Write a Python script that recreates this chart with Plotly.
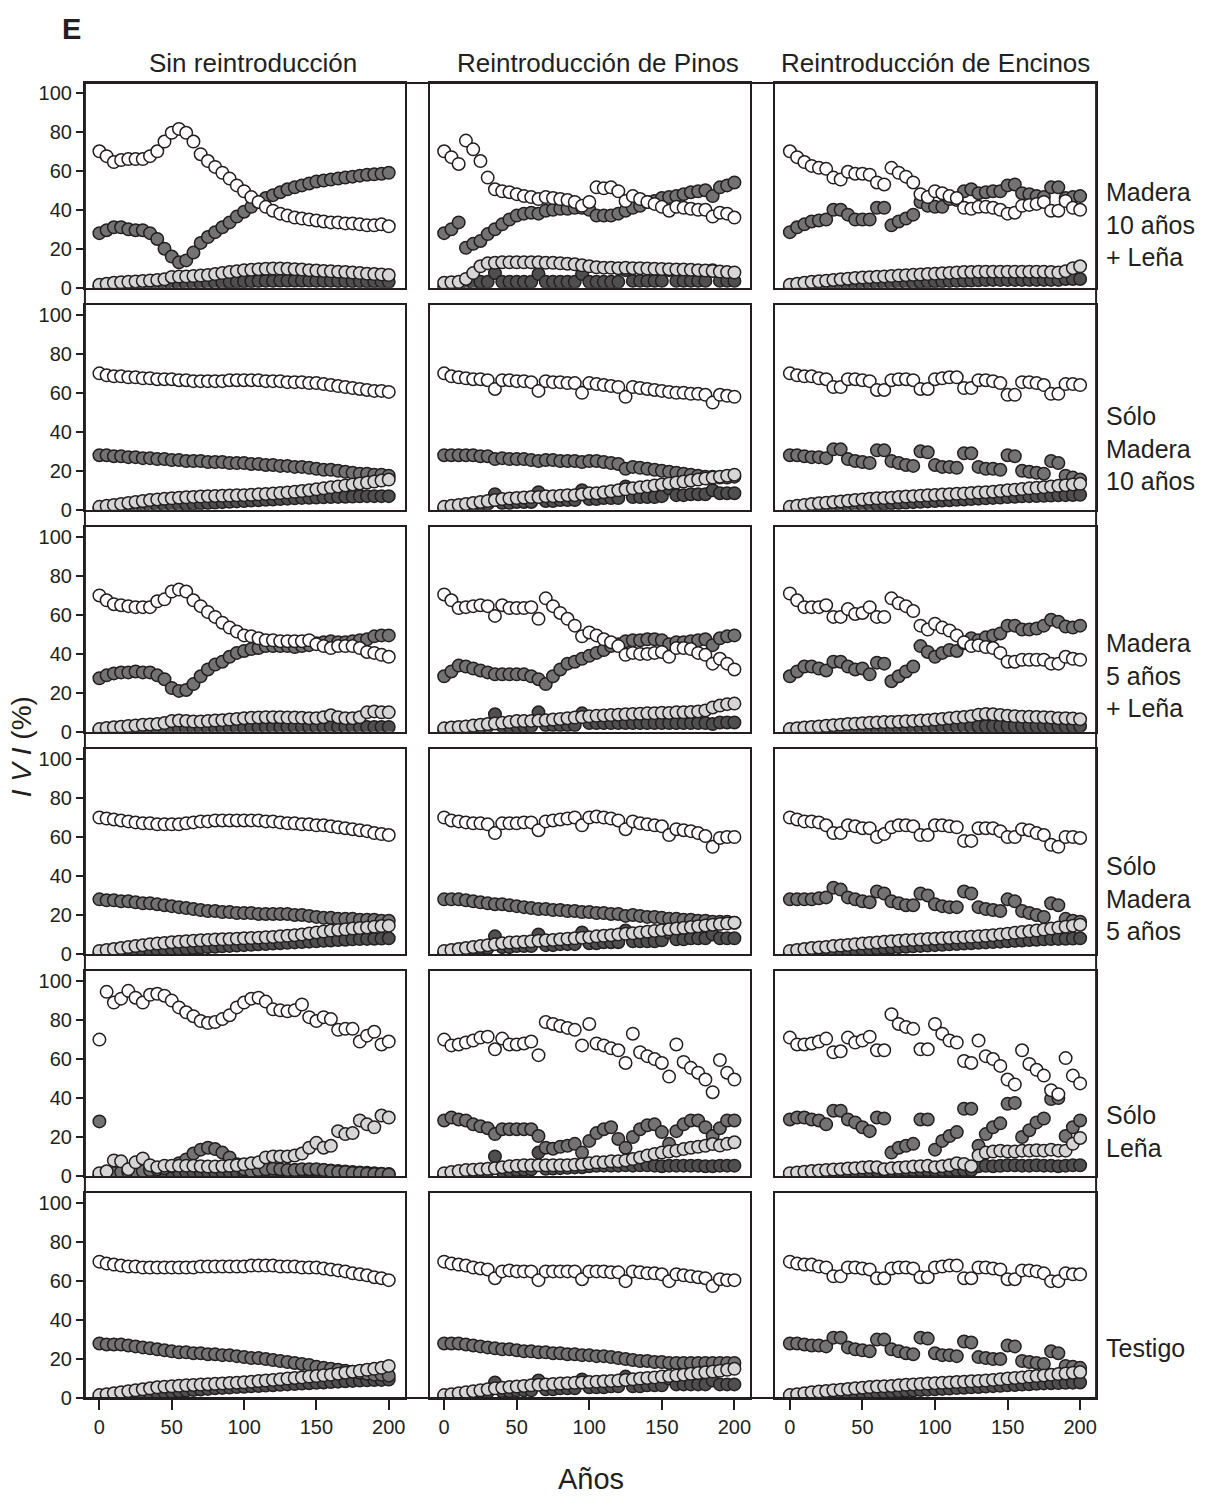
import plotly.graph_objects as go

years = list(range(0, 205, 5))
col_titles = ["Sin reintroducción", "Reintroducción de Pinos", "Reintroducción de Encinos"]
row_labels = ["Madera<br>10 años<br>+ Leña", "Sólo<br>Madera<br>10 años", "Madera<br>5 años<br>+ Leña",
              "Sólo<br>Madera<br>5 años", "Sólo<br>Leña", "Testigo"]
y_ticks = [0, 20, 40, 60, 80, 100]
x_ticks = [0, 50, 100, 150, 200]

# ---- Row 1: Madera 10 años + Leña ----
w11 = [70, 67.5, 64.5, 65.5, 66, 66, 66, 67.5, 70, 75, 79.5, 81.5, 79.5, 75, 68.5, 65, 62, 59, 56, 52.5, 49.5, 46.5, 44, 41.5, 39.5, 38, 37, 36, 35.5, 35, 34.5, 34, 33.5, 33.5, 33, 33, 32.5, 32, 32, 32.5, 31.5]
g11 = [28, 29.5, 31, 31, 30, 29.5, 29.5, 28, 25, 20, 16, 13, 14, 18, 23, 26, 28.5, 31, 33.5, 36.5, 39, 41.5, 44, 46, 47.5, 49, 50.5, 51.5, 52.5, 53.5, 54.5, 55, 55.5, 56, 56.5, 57, 57.5, 58, 58.2, 58.5, 59]
l11 = [1.5, 2, 2.5, 2.8, 3, 3.2, 3.5, 3.7, 4, 4.3, 5.5, 5.7, 5.8, 6, 6.2, 6.5, 7, 7.5, 8, 8.5, 9, 9.2, 9.5, 9.7, 9.8, 9.8, 9.7, 9.5, 9.3, 9, 8.8, 8.6, 8.4, 8.2, 8, 7.8, 7.5, 7.2, 7, 6.8, 6.5]
k11 = [0.3, 0.4, 0.5, 0.6, 0.7, 0.8, 0.9, 1, 1.1, 1.2, 1.4, 1.6, 1.8, 2, 2.2, 2.4, 2.6, 2.8, 3, 3.1, 3.2, 3.3, 3.4, 3.5, 3.5, 3.6, 3.6, 3.6, 3.6, 3.6, 3.5, 3.5, 3.5, 3.4, 3.4, 3.3, 3.3, 3.2, 3.2, 3.1, 3]

w12 = [70, 67, 63.5, 75.5, 71, 65, 56.5, 50.5, 49.5, 49, 48, 47, 46.5, 45.5, 46.5, 46, 45.5, 45, 44, 42, 44, 51.5, 51, 51.5, 49.5, 44.5, 47, 45.5, 44, 43, 41.5, 39.5, 41.5, 41, 40.5, 40, 40, 36.5, 38.5, 38, 36]
g12 = [28, 30, 33.5, 20.5, 22.5, 24, 27.5, 30, 32.5, 35, 37, 38, 38.5, 38, 39.5, 40, 40.5, 40.5, 41, 41, 40, 37, 37, 37, 38, 39.5, 41, 42, 44, 44.5, 46, 46.5, 47, 48, 49, 49.5, 50, 47, 51.5, 52.5, 54]
l12 = [2.5, 2.8, 3, 4.5, 7.5, 11, 12.5, 12.8, 13, 13, 13, 13, 13, 13, 12.8, 12.8, 12.5, 12.3, 12, 11.5, 11, 10.5, 10.3, 10.2, 10, 10.2, 10, 10, 9.8, 9.7, 9.6, 9.5, 9.4, 9.3, 9.2, 9, 8.8, 8.6, 8.3, 8, 7.8]
k12 = [0.5, 0.8, 1.2, 1.8, 2.5, 3, 3, 7.5, 3, 3, 3, 3, 3, 7, 3, 3, 3, 3, 3, 7, 3, 3, 3, 3, 3, 9, 3.5, 3.5, 3.5, 3.5, 3.5, 9, 3.5, 3.5, 3.5, 3.5, 3.5, 9, 3.5, 3.5, 3.5]

w13 = [70, 67, 64.5, 62.5, 61.5, 61, 56.5, 55.5, 59.5, 58.5, 58.5, 58, 54, 53, 61.5, 59, 57, 54, 48, 46.5, 49.5, 48.5, 47, 46, 41, 40.5, 41.5, 41.5, 41, 40, 38, 38.5, 42, 42.5, 43, 44, 39.5, 39.5, 44.5, 41, 40]
g13 = [28.5, 31, 32.5, 34, 34.5, 35, 40, 40, 37.5, 35, 35, 35, 41, 41, 32, 34, 35.5, 37.5, 44, 42, 41.5, 41.5, 45.5, 45, 49.5, 50.5, 48.5, 49, 49.5, 49.5, 52.5, 53, 48.5, 48, 47, 46.5, 51.5, 51.5, 46, 46.5, 47]
l13 = [1.5, 2, 2.5, 3, 3.3, 3.6, 4, 4.3, 4.6, 5, 5.2, 5.4, 5.6, 5.8, 6, 6.2, 6.4, 6.6, 6.8, 7, 7.2, 7.4, 7.6, 7.8, 8, 8, 8.2, 8.2, 8.2, 8.2, 8.2, 8.2, 8.2, 8.2, 8.2, 8.2, 8, 7.8, 8.5, 10, 11]
k13 = [0.3, 0.4, 0.5, 0.6, 0.7, 0.8, 0.9, 1, 1.1, 1.2, 1.4, 1.6, 1.8, 2, 2.2, 2.4, 2.6, 2.8, 3, 3.1, 3.2, 3.3, 3.4, 3.5, 3.6, 3.7, 3.8, 3.9, 4, 4, 4, 4, 4, 4, 4, 4, 4, 4, 4.5, 4.5, 4.5]

# ---- Row 2: Sólo Madera 10 años ----
w21 = [70, 69, 68.5, 68.5, 68, 68, 67.5, 67.5, 67, 67, 67, 66.5, 66.5, 66, 66, 66, 66, 66, 66.5, 66.5, 66.5, 66.5, 66.5, 66, 66, 66, 65.5, 65.5, 65.5, 65, 65, 64.5, 64, 63.5, 63, 62.5, 62, 61.5, 61, 61, 60.5]
g21 = [28, 28, 27.5, 27.5, 27, 27, 26.5, 26.5, 26, 26, 25.5, 25.5, 25, 25, 25, 24.5, 24.5, 24.5, 24, 24, 24, 23.5, 23.5, 23, 23, 22.5, 22.5, 22, 22, 21.5, 21, 20.5, 20.5, 20, 19.5, 19, 18.5, 18.5, 18, 18, 17.5]
l21 = [1.5, 2, 2.5, 3, 3.5, 4, 4.5, 5, 5.3, 5.6, 5.9, 6.2, 6.4, 6.6, 6.8, 7, 7.1, 7.2, 7.3, 7.4, 7.5, 7.7, 7.9, 8.1, 8.3, 8.6, 8.9, 9.2, 9.6, 10, 10.5, 11, 11.5, 12, 12.5, 13, 13.5, 14, 14.5, 15, 15.5]
k21 = [0.5, 0.7, 0.9, 1.1, 1.3, 1.5, 1.7, 1.9, 2.1, 2.3, 2.5, 2.7, 2.9, 3.1, 3.3, 3.5, 3.7, 3.9, 4.1, 4.3, 4.5, 4.7, 4.9, 5.1, 5.3, 5.5, 5.7, 5.9, 6.1, 6.2, 6.3, 6.4, 6.5, 6.6, 6.7, 6.8, 6.9, 7, 7, 7, 7]

w22 = [70, 68.5, 68, 67.5, 67, 67, 66.5, 62, 66.5, 66.5, 66, 66, 65.5, 61, 66, 65.5, 65.5, 65, 65, 60, 65, 64.5, 64, 63.5, 63, 58, 63, 62.5, 62, 61.5, 61, 60.5, 60, 60, 59.5, 59.5, 59, 55, 59, 58.5, 58]
g22 = [28, 28, 28, 28, 28, 27.5, 27.5, 26, 26.5, 26, 26, 26, 25.5, 25, 25.5, 25.5, 25, 25, 25, 24.5, 25, 25, 24.5, 24, 23.5, 21, 22, 21.5, 21, 20.5, 20, 19.5, 19, 18.5, 18, 17.5, 17, 17, 16.5, 16.5, 17]
l22 = [1.5, 2, 2.5, 3, 3.5, 4, 4.5, 5, 5.5, 5.8, 6, 6.3, 6.5, 6.5, 7, 7, 7.2, 7.5, 7.5, 8, 8.5, 8.5, 9, 9.5, 10, 10.5, 11, 11.5, 12, 12.5, 13, 13.5, 14, 14.5, 15, 15.5, 16, 16.5, 17, 17.5, 18]
k22 = [0.5, 1, 1.5, 2, 2.5, 3, 3, 8, 3.5, 3.5, 4, 4, 4, 9, 4.5, 4.5, 5, 5, 5, 10, 5.5, 5.5, 6, 6, 6, 12, 6.5, 6.5, 6.5, 6.5, 7, 11, 7.5, 7.5, 8, 8, 8, 10, 8.5, 8.5, 8.5]

w23 = [70, 69, 68.5, 68.5, 67.5, 67, 63, 63, 67, 67, 66.5, 66, 61.5, 61.5, 66.5, 67, 67, 66.5, 62, 62, 67, 67.5, 68, 68, 62.5, 62.5, 66.5, 66.5, 66, 65, 59, 59, 65.5, 65.5, 65, 64, 59.5, 59.5, 64.5, 64.5, 64]
g23 = [28, 28, 27.5, 27, 27, 26.5, 31, 31, 26, 25, 24.5, 24, 30.5, 30.5, 25, 24, 23, 22.5, 30, 29.5, 23, 22, 22, 21.5, 29, 29, 22, 21, 21, 20.5, 28, 27.5, 20, 19.5, 19, 18.5, 25, 24, 17.5, 16.5, 15.5]
l23 = [1.5, 2, 2.5, 3, 3.3, 3.6, 4, 4.3, 4.6, 5, 5.3, 5.6, 5.9, 6, 6.2, 6.5, 6.8, 7, 7.2, 7.4, 7.6, 7.8, 8, 8.2, 8.4, 8.6, 8.8, 9, 9.3, 9.6, 10, 10.3, 10.6, 11, 11.3, 11.6, 12, 12.3, 12.6, 13, 13.3]
k23 = [0.5, 0.7, 0.9, 1.1, 1.3, 1.5, 1.7, 1.9, 2.1, 2.3, 2.5, 2.7, 2.9, 3.1, 3.3, 3.5, 3.7, 3.9, 4.1, 4.3, 4.5, 4.7, 4.9, 5.1, 5.3, 5.5, 5.7, 5.9, 6.1, 6.3, 6.5, 6.7, 6.9, 7, 7.1, 7.2, 7.3, 7.4, 7.5, 7.6, 7.7]

# ---- Row 3: Madera 5 años + Leña ----
w31 = [70, 67.5, 65.5, 65, 64.5, 64, 64, 64, 67, 68, 72, 73, 72, 67.5, 64.5, 61.5, 59, 56, 53.5, 51.5, 49.5, 49, 48, 47, 47, 46.5, 46.5, 46.5, 46.5, 47, 45, 44, 43, 44, 44, 44, 43, 41, 40.5, 39.5, 38.5]
g31 = [27.5, 29, 30, 30.5, 30.5, 31, 30.5, 30.5, 29, 27, 22.5, 21, 21.5, 24.5, 28.5, 32, 34.5, 36, 38.5, 40.5, 41.5, 42.5, 43, 44, 44, 44, 44, 43.5, 44, 44.5, 45.5, 46, 46.5, 46, 46, 46.5, 47, 47.5, 49, 49.5, 49.5]
l31 = [1.4, 2, 2.3, 2.6, 3, 3.3, 3.6, 3.8, 4, 4.5, 5.5, 5.8, 5.5, 5.3, 5.3, 5.5, 5.8, 6, 6.3, 6.6, 7, 7.2, 7.4, 7.5, 7.5, 7.5, 7.3, 7.3, 7.2, 7, 7, 7.5, 8.5, 7.5, 7, 7, 7.5, 10, 10.5, 10, 10]
k31 = [0.3, 0.4, 0.5, 0.6, 0.7, 0.8, 0.9, 1, 1.1, 1.2, 1.3, 1.4, 1.5, 1.6, 1.7, 1.8, 1.9, 2, 2, 2.1, 2.1, 2.2, 2.2, 2.3, 2.3, 2.4, 2.4, 2.4, 2.5, 2.5, 2.5, 2.5, 2.5, 2.5, 2.5, 2.5, 2.5, 2.5, 2.5, 2.5, 2.5]

w32 = [70.5, 67.5, 63.5, 64, 64.5, 65, 64.5, 59.5, 65, 63.5, 63.5, 63.5, 64, 58, 68.5, 64.5, 61, 58, 54.5, 49, 51, 49.5, 47.5, 46, 44, 39.5, 40.5, 40, 40, 40.5, 41, 38.5, 43, 43, 42.5, 40.5, 39.5, 35, 37.5, 35, 32]
g32 = [28.5, 31, 34, 33.5, 32.5, 31.5, 30.5, 29.5, 29.5, 29.5, 29.5, 29.5, 28.5, 27, 24.5, 28.5, 32, 35, 36, 37.5, 39, 40.5, 42, 44, 45, 46.5, 47, 47, 47.5, 47.5, 47, 45, 46, 46, 46.5, 47, 47.5, 44.5, 48, 49, 49.5]
l32 = [1.8, 2.2, 2.5, 2.8, 3.2, 3.6, 4, 4.3, 4.6, 5, 5.5, 5.5, 5.6, 5.8, 6, 6.3, 6.6, 7, 7.3, 7.6, 8, 8.2, 8.4, 8.6, 8.8, 9, 9.2, 9.3, 9.5, 9.6, 9.8, 9.7, 10, 10, 10.2, 10.5, 11, 12.5, 13.5, 14.2, 14.5]
k32 = [0.5, 0.8, 1, 1.5, 2, 2.5, 2.8, 9, 3, 3, 3, 3, 3, 10, 3.5, 3.5, 3.5, 3.5, 3.5, 9.5, 4.5, 4.5, 4.5, 4.5, 4.5, 4.5, 4.5, 4.5, 4.5, 4.5, 4.5, 4.5, 4.5, 4.5, 4.5, 4.5, 4.5, 4, 4.8, 4.8, 4.8]

w33 = [71, 67.5, 64, 64, 64, 65, 59, 59, 63, 60.5, 61, 64, 59, 59, 68.5, 66, 64.5, 62, 54.5, 52.5, 55.5, 53.5, 52, 49.5, 46, 44, 44.5, 43.5, 43, 40.5, 36, 36, 37, 37, 37, 37, 35, 35, 38.5, 37.5, 37]
g33 = [28.5, 31, 33.5, 33.5, 32.5, 31.5, 36, 36, 33.5, 32, 32.5, 29.5, 35.5, 35, 26, 28.5, 31, 33.5, 44, 41, 38.5, 40.5, 42, 41.5, 45.5, 48, 47, 48.5, 49.5, 50.5, 54.5, 54.5, 52.5, 52.5, 53, 54.5, 57.5, 56.5, 54, 53.5, 54.5]
l33 = [1.4, 1.8, 2.2, 2.5, 2.8, 3.1, 3.4, 3.7, 4, 4.2, 4.4, 4.6, 4.8, 5, 5, 5.2, 5.4, 5.6, 5.8, 6, 6.3, 6.6, 7, 7.3, 7.6, 8, 8.8, 9.2, 9, 8.7, 8.3, 8, 7.8, 7.7, 7.6, 7.5, 7.3, 7, 7, 6.8, 6.5]
k33 = [0.3, 0.4, 0.5, 0.6, 0.7, 0.8, 0.9, 1, 1.1, 1.2, 1.3, 1.4, 1.5, 1.6, 1.7, 1.8, 1.9, 2, 2.1, 2.2, 2.3, 2.4, 2.5, 2.6, 2.7, 2.8, 2.9, 3, 3, 3, 3, 3, 3, 3, 3, 3, 3, 3, 3, 3, 3]

# ---- Row 4: Sólo Madera 5 años ----
w41 = [70, 69.5, 69, 68.5, 68, 67.5, 67, 67, 66.5, 66.5, 66.5, 66.5, 67, 67.5, 68, 68, 68.5, 68.5, 68.5, 68.5, 68.5, 68.5, 68.5, 68, 68, 67.5, 67, 67, 66.5, 66.5, 66, 66, 65.5, 65, 64.5, 64, 63.5, 63, 62, 61.5, 61]
g41 = [28, 27.5, 27.5, 27, 27, 26.5, 26, 26, 25.5, 25, 24.5, 24, 23.5, 23, 22.5, 22, 22, 21.5, 21.5, 21, 21, 21, 20.5, 20.5, 20.5, 20.5, 20.5, 20, 20, 19.5, 19, 18.5, 18.5, 18, 18, 18, 17.5, 17.5, 17.5, 17, 17]
l41 = [1.5, 2, 2.5, 3, 3.5, 4, 4.5, 5, 5.3, 5.6, 6, 6.3, 6.5, 6.8, 7, 7.2, 7.4, 7.5, 7.6, 7.8, 8, 8.1, 8.3, 8.5, 8.7, 9, 9.3, 9.6, 10, 10.5, 11, 11.5, 12, 12.3, 12.6, 13, 13.3, 13.6, 14, 14.3, 14.5]
k41 = [0.5, 0.7, 0.9, 1.1, 1.3, 1.5, 1.7, 1.9, 2.1, 2.3, 2.5, 2.7, 2.9, 3.1, 3.3, 3.5, 3.7, 3.9, 4.1, 4.3, 4.5, 4.7, 4.9, 5.1, 5.3, 5.5, 5.7, 5.9, 6.1, 6.3, 6.5, 6.7, 6.9, 7.1, 7.3, 7.5, 7.6, 7.7, 7.8, 7.9, 8]

w42 = [70, 68.5, 68, 67.5, 67, 67, 66.5, 62, 67, 67, 67, 67.5, 67.5, 63.5, 68, 68.5, 69, 69.5, 70, 66, 70, 70.5, 70, 69.5, 68.5, 64, 68, 67, 66.5, 66, 65.5, 61, 64, 63.5, 63, 62, 60.5, 55, 59.5, 60, 60]
g42 = [28, 28, 28, 27.5, 27, 26.5, 26, 25.5, 25.5, 25, 24.5, 24, 23.5, 23, 23, 22.5, 22.5, 22, 22, 21.5, 21.5, 21, 21, 20.5, 20.5, 19.5, 20, 19.5, 19, 19, 18.5, 18, 18, 17.5, 17.5, 17, 17, 16.5, 16.5, 16.5, 16]
l42 = [1.5, 2, 2.5, 3, 3.5, 4, 4.5, 5, 5.5, 5.8, 6, 6.3, 6.5, 6.8, 7, 7.2, 7.5, 7.8, 8, 8.3, 8.6, 9, 9.3, 9.6, 10, 10.3, 10.6, 11, 11.4, 11.8, 12.2, 12.6, 13, 13.4, 13.8, 14.2, 14.6, 15, 15.3, 15.6, 16]
k42 = [0.5, 1, 1.5, 2, 2.5, 3, 3, 9, 3.5, 3.5, 4, 4, 4, 10, 4.5, 4.5, 5, 5, 5, 11, 5.5, 5.5, 6, 6, 6, 12, 6.5, 6.5, 6.5, 6.5, 7, 11, 7.5, 7.5, 8, 8, 8, 10, 8, 8, 8]

w43 = [70, 69, 68, 68, 67.5, 66, 62, 62, 66, 65.5, 64.5, 64.5, 60, 61.5, 65, 66, 66, 65.5, 61, 61, 66, 66, 65.5, 65, 58, 58, 64.5, 64.5, 64.5, 63, 60, 60, 64, 63.5, 62, 61, 56, 55, 60, 60, 59.5]
g43 = [28, 28, 28, 28, 28.5, 29, 34, 33, 29, 28, 27, 26.5, 32, 31, 27, 26, 25, 25, 31, 30, 25.5, 24.5, 24, 24, 32, 31, 24, 23, 22.5, 22, 28, 27, 22, 21, 20, 19, 26, 25, 18, 17, 16.5]
l43 = [1.5, 2, 2.5, 3, 3.3, 3.6, 4, 4.3, 4.6, 5, 5.3, 5.6, 5.9, 6.2, 6.5, 6.8, 7, 7.2, 7.4, 7.6, 7.8, 8, 8.2, 8.4, 8.6, 8.8, 9, 9.3, 9.6, 10, 10.4, 10.8, 11.2, 11.6, 12, 12.5, 13, 13.5, 14, 14.5, 15]
k43 = [0.5, 0.7, 0.9, 1.1, 1.3, 1.5, 1.7, 1.9, 2.1, 2.3, 2.5, 2.7, 2.9, 3.1, 3.3, 3.5, 3.7, 3.9, 4.1, 4.3, 4.5, 4.7, 4.9, 5.1, 5.3, 5.5, 5.7, 5.9, 6.1, 6.3, 6.5, 6.7, 6.9, 7.1, 7.3, 7.5, 7.6, 7.7, 7.8, 7.9, 8]

# ---- Row 5: Sólo Leña ----
w51 = [70, 94.5, 89, 91, 95, 91.5, 89, 93, 93.5, 92.5, 90, 86.5, 84, 82, 79.5, 78.5, 79, 80.5, 82.5, 86.5, 89, 91, 91.5, 89.5, 85.5, 85, 84.5, 85, 88, 81.5, 79.5, 81.5, 80.5, 75, 75.5, 75.5, 69, 72, 74, 67.5, 69]
g51 = [28, 1, 1.5, 2, 2, 2.5, 2.5, 3, 3.5, 4, 5, 6.5, 8.5, 11.5, 13.5, 14.5, 13.8, 12, 9.5, 6, 3.5, 2.5, 3, 3.5, 3.8, 3.5, 3, 3, 3.5, 3.5, 3.5, 3, 2.5, 2, 2, 1.5, 1.5, 1.2, 1, 1, 0.8]
l51 = [1.4, 2.4, 8, 7.5, 3.5, 7, 9, 5.5, 4.5, 5.3, 5.3, 5.3, 5.3, 5.3, 5, 4.8, 4.8, 5, 5.2, 5.5, 6, 6.5, 7, 9.5, 10, 10, 10, 10.5, 11.5, 14.5, 17, 14.5, 15.5, 23, 21.5, 22, 28.5, 26.5, 25, 31, 30]
k51 = [0.3, 0.5, 0.7, 0.9, 1, 1.2, 1.4, 1.6, 1.8, 2, 2, 2, 2, 2, 2, 2, 2, 2, 2, 2, 2, 2, 2, 2.2, 2.5, 2.8, 3, 3, 3, 3, 3, 3, 2.8, 2.5, 2.3, 2, 1.8, 1.6, 1.4, 1.2, 1]

w52 = [70, 67, 67.5, 68.5, 69.5, 71, 71.5, 65, 70.5, 67.5, 67.5, 68, 69, 62, 79, 78, 77, 76, 75, 67, 78, 68, 67, 65.5, 64.5, 58, 73, 63.5, 61.5, 60, 58, 51, 67.5, 58.5, 55.5, 53, 49.5, 43, 59.5, 53, 49.5]
g52 = [28.5, 30, 29, 28.5, 26.5, 25.5, 24.5, 21.5, 24, 24, 24, 24, 24, 20.5, 14.5, 14, 15, 15.5, 16.5, 12, 18, 22, 24, 25, 19, 14.5, 20, 24, 26, 26.5, 22.5, 16.5, 23, 26.5, 28.5, 28.5, 25, 20.5, 24.5, 28.5, 28.5]
l52 = [1.4, 2, 2.5, 3, 3.2, 3.5, 3.7, 4, 4.5, 5, 5.3, 5.5, 5.5, 5.5, 5.5, 5.5, 5.5, 5.5, 5.8, 6, 6.5, 7, 7, 7.5, 7.5, 8, 8.7, 9.5, 10.5, 11.3, 12, 12.5, 13, 13.8, 14.5, 15, 15.5, 16.4, 15.6, 16.5, 17.3]
k52 = [0.5, 0.8, 1, 1.3, 1.6, 2, 2.3, 10, 2.5, 2.7, 3, 3.2, 3.4, 12, 3.7, 3.8, 4, 4.2, 4.4, 4.5, 5, 5.2, 5.3, 5.3, 5.3, 5.5, 5.3, 5.5, 5.5, 5.3, 5, 5.3, 5.3, 5.3, 5.3, 5.3, 5, 5, 5.3, 5.3, 5.3]

w53 = [71, 67.5, 67.5, 68, 69, 70.5, 63.5, 64, 71, 68.5, 69.5, 71.5, 64.5, 64.5, 83, 78, 76.5, 75.5, 65, 65, 78, 73, 69.5, 68.5, 59, 58, 69.5, 61.5, 60, 56.5, 49.5, 47, 64.5, 57.5, 54.5, 51.5, 44, 42, 60.5, 51.5, 47.5]
g53 = [29, 30, 30, 29, 28.5, 26.5, 33.5, 33.5, 29, 27.5, 25, 23, 30, 29.5, 12, 14.5, 15.5, 16.5, 29, 29, 13.5, 18, 20.5, 22.5, 34.5, 34.5, 15.5, 21.5, 25, 27, 37, 37.5, 20, 23.5, 27.5, 29.5, 39.5, 40, 20.5, 25, 28.5]
l53 = [1.4, 1.8, 2.2, 2.5, 2.8, 3, 3.3, 3.5, 3.8, 4, 4.3, 4.6, 4.5, 3.5, 4, 4.2, 4.5, 4.8, 5, 5.2, 4.5, 5, 5.5, 6.5, 6.2, 5, 10.5, 12, 12.5, 13, 12.5, 12.5, 13, 13, 13.2, 13, 13.5, 13, 13, 16.5, 19.5]
k53 = [0.5, 0.7, 0.9, 1.1, 1.3, 1.5, 1.7, 1.9, 2.1, 2.3, 2.5, 2.6, 2.7, 2.8, 2.9, 3, 3, 3, 3, 3, 3, 3, 3, 3, 3, 3, 5, 5.2, 5, 5.2, 5.5, 5.5, 5.3, 5.3, 5.5, 5.3, 5.3, 5, 5.3, 5.5, 5.5]

# ---- Row 6: Testigo ----
w61 = [70, 69, 68.5, 68, 67.5, 67.5, 67, 67, 67, 67, 67, 67, 67, 67, 67.5, 67.5, 67.5, 67.5, 67.5, 67.5, 67.5, 68, 68, 68, 68, 67.5, 67.5, 67.5, 67, 67, 67, 66.5, 66, 65.5, 65, 64, 63.5, 63, 62, 61.5, 60.5]
g61 = [28, 27.5, 27.5, 27.5, 27, 26.5, 26, 25.5, 25, 24.5, 24, 23.5, 23.5, 23, 23, 22.5, 22.5, 22, 22, 21.5, 21, 20.5, 20.5, 20, 19.5, 19, 18.5, 18, 17.5, 17, 16, 15.5, 15, 14.5, 14, 13.5, 13, 12.5, 12, 12, 11.5]
l61 = [1.5, 2, 2.5, 3, 3.5, 4, 4.5, 5, 5.5, 5.8, 6, 6.3, 6.5, 6.7, 6.9, 7.1, 7.3, 7.5, 7.7, 7.9, 8.1, 8.4, 8.7, 9, 9.3, 9.6, 10, 10.3, 10.6, 11, 11.3, 11.7, 12, 12.5, 13, 13.5, 14, 14.5, 15, 15.5, 16.5]
k61 = [0.5, 0.7, 0.9, 1.1, 1.4, 1.7, 2, 2.3, 2.6, 2.9, 3.2, 3.5, 3.8, 4.1, 4.4, 4.7, 5, 5.2, 5.4, 5.6, 5.8, 6, 6.2, 6.4, 6.6, 6.8, 7, 7.2, 7.4, 7.6, 7.8, 8, 8.2, 8.4, 8.6, 8.8, 9, 9.1, 9.2, 9.3, 9.5]

w62 = [70, 69, 68.5, 68, 67, 66.5, 66, 61.5, 65, 65.5, 65, 65, 65, 60.5, 65, 65, 65, 65, 65, 61, 65, 65, 65, 64.5, 64.5, 60, 65, 64.5, 64, 64, 63.5, 60, 63.5, 63, 62.5, 62, 61.5, 57.5, 61, 60.5, 60.5]
g62 = [28, 28, 28, 27.5, 27, 26.5, 26, 25.5, 25, 25, 24.5, 24, 24, 23.5, 23.5, 23, 23, 22.5, 22.5, 22, 22, 21.5, 21.5, 21, 20.5, 20, 19.5, 19, 19, 18.5, 18.5, 18, 18, 18, 18, 18, 18, 18, 18, 18, 18]
l62 = [1.5, 2, 2.5, 3, 3.5, 4, 4.5, 5, 5.3, 5.6, 5.9, 6.2, 6.5, 6.8, 7, 7.2, 7.4, 7.6, 7.8, 8, 8.2, 8.4, 8.6, 8.8, 9, 9.3, 9.6, 10, 10.3, 10.6, 11, 11.3, 11.6, 12, 12.4, 12.8, 13.2, 13.6, 14, 14.5, 15]
k62 = [0.5, 1, 1.5, 2, 2.5, 3, 3, 8, 3.5, 3.5, 4, 4, 4, 9, 4.5, 4.5, 5, 5, 5, 9.5, 5.5, 5.5, 5.5, 6, 6, 11, 6, 6, 6.5, 6.5, 6.5, 10, 7, 7, 7, 7, 7, 9, 7, 7, 7]

w63 = [70, 69, 68.5, 68.5, 67.5, 67, 62.5, 62.5, 67, 67, 66.5, 66, 61.5, 61.5, 66.5, 67, 67, 66.5, 62, 62, 67, 67.5, 68, 68, 61.5, 61.5, 67, 67, 66.5, 66, 61, 61, 65.5, 65.5, 65, 64, 60, 60, 64, 63.5, 63.5]
g63 = [28, 28, 27.5, 27, 27, 26.5, 31, 31, 26, 25, 24.5, 24, 30, 30, 25, 24, 23, 22.5, 31, 30.5, 23, 22, 22, 21.5, 29, 28.5, 21, 20.5, 20, 20, 27, 26.5, 19, 18.5, 18, 17.5, 24, 23, 16.5, 16, 15.5]
l63 = [1.5, 2, 2.5, 3, 3.3, 3.6, 4, 4.3, 4.6, 5, 5.3, 5.6, 5.9, 6, 6.2, 6.5, 6.8, 7, 7.2, 7.4, 7.6, 7.8, 8, 8.2, 8.4, 8.6, 8.8, 9, 9.3, 9.6, 10, 10.3, 10.6, 11, 11.3, 11.6, 12, 12.3, 12.6, 13, 13.3]
k63 = [0.5, 0.7, 0.9, 1.1, 1.3, 1.5, 1.7, 1.9, 2.1, 2.3, 2.5, 2.7, 2.9, 3.1, 3.3, 3.5, 3.7, 3.9, 4.1, 4.3, 4.5, 4.7, 4.9, 5.1, 5.3, 5.5, 5.7, 5.9, 6.1, 6.3, 6.5, 6.7, 6.9, 7.1, 7.3, 7.5, 7.6, 7.7, 7.8, 7.9, 8]

panels = [
    [(k11, g11, l11, w11), (k12, g12, l12, w12), (k13, g13, l13, w13)],
    [(k21, g21, l21, w21), (k22, g22, l22, w22), (k23, g23, l23, w23)],
    [(k31, g31, l31, w31), (k32, g32, l32, w32), (k33, g33, l33, w33)],
    [(k41, g41, l41, w41), (k42, g42, l42, w42), (k43, g43, l43, w43)],
    [(k51, g51, l51, w51), (k52, g52, l52, w52), (k53, g53, l53, w53)],
    [(k61, g61, l61, w61), (k62, g62, l62, w62), (k63, g63, l63, w63)],
]
fills = ["#4f4f4f", "#737373", "#d6d6d6", "#ffffff"]

# ---- geometry (page pixels; body margin removed by post_script) ----
W, H = 1208, 1502
VS = 1.007          # small vertical stretch correction
COLS = [(85, 405), (430, 751), (776, 1097)]
TOP0, PITCH, RH = 82, 222.3, 205
INK = "#231f20"
FONT = "Liberation Sans, Arial, Helvetica, sans-serif"

def px(x):
    return x / W

def py(y):
    return 1 - (y * VS) / H

fig = go.Figure()
layout = {}
for r in range(6):
    top = TOP0 + PITCH * r
    bot = top + RH
    for c in range(3):
        idx = r * 3 + c + 1
        sfx = "" if idx == 1 else str(idx)
        for vals, fc in zip(panels[r][c], fills):
            fig.add_trace(go.Scatter(
                x=years, y=vals, mode="markers", xaxis="x" + sfx, yaxis="y" + sfx,
                marker=dict(size=12.5, color=fc, line=dict(color=INK, width=1.5)),
                showlegend=False, hoverinfo="skip", cliponaxis=True))
        x0, x1 = COLS[c]
        layout["xaxis" + sfx] = dict(
            domain=[px(x0), px(x1)], range=[-10, 211], anchor="y" + sfx,
            showline=True, mirror=True, linecolor=INK, linewidth=2,
            showgrid=False, zeroline=False, fixedrange=True,
            ticks="outside" if r == 5 else "", ticklen=10, tickwidth=2, tickcolor=INK,
            tickvals=x_ticks, showticklabels=(r == 5), ticklabelstandoff=0,
            tickfont=dict(family=FONT, size=20, color=INK))
        layout["yaxis" + sfx] = dict(
            domain=[py(bot), py(top)], range=[0, 105.1], anchor="x" + sfx,
            showline=True, mirror=True, linecolor=INK, linewidth=2,
            showgrid=False, zeroline=False, fixedrange=True,
            ticks="outside" if c == 0 else "", ticklen=7, tickwidth=2, tickcolor=INK,
            tickvals=y_ticks, showticklabels=(c == 0),
            tickfont=dict(family=FONT, size=20, color=INK))

bottom = TOP0 + PITCH * 5 + RH
shapes = [
    dict(type="line", xref="paper", yref="paper", x0=px(85), x1=px(85), y0=py(TOP0), y1=py(bottom), line=dict(color=INK, width=2)),
    dict(type="line", xref="paper", yref="paper", x0=px(1097), x1=px(1097), y0=py(TOP0), y1=py(bottom), line=dict(color=INK, width=2)),
    dict(type="line", xref="paper", yref="paper", x0=px(85), x1=px(1097), y0=py(TOP0), y1=py(TOP0), line=dict(color=INK, width=2)),
    dict(type="line", xref="paper", yref="paper", x0=px(85), x1=px(1097), y0=py(bottom), y1=py(bottom), line=dict(color=INK, width=2)),
]

annotations = [
    dict(text="<b>E</b>", x=px(72), y=py(28), xref="paper", yref="paper", showarrow=False,
         font=dict(family=FONT, size=29, color=INK), xanchor="center", yanchor="middle"),
    dict(text="Años", x=px(591), y=py(1480), xref="paper", yref="paper", showarrow=False,
         font=dict(family=FONT, size=29, color=INK), xanchor="center", yanchor="middle"),
    dict(text="<i>I V I</i> (%)", x=px(21), y=py(746), xref="paper", yref="paper", showarrow=False,
         textangle=-90, font=dict(family=FONT, size=28, color=INK), xanchor="center", yanchor="middle"),
]
title_x = [253, 598, 936]
for t, xc in zip(col_titles, title_x):
    annotations.append(dict(text=t, x=px(xc), y=py(62), xref="paper", yref="paper", showarrow=False,
                            font=dict(family=FONT, size=26, color=INK), xanchor="center", yanchor="middle"))
label_y = [224, 448, 675, 898, 1132, 1348]
for t, yc in zip(row_labels, label_y):
    annotations.append(dict(text=t, x=px(1105), y=py(yc), xref="paper", yref="paper", showarrow=False,
                            align="left", font=dict(family=FONT, size=25, color=INK),
                            xanchor="left", yanchor="middle"))

fig.update_layout(
    width=W, height=H, margin=dict(l=0, r=0, t=0, b=0, pad=0),
    paper_bgcolor="white", plot_bgcolor="white",
    shapes=shapes, annotations=annotations, **layout)

fig.write_html(
    "out.html",
    config={"displayModeBar": False},
    post_script="document.body.style.margin='0';document.body.style.overflow='hidden';"
                "document.documentElement.style.overflow='hidden';")
